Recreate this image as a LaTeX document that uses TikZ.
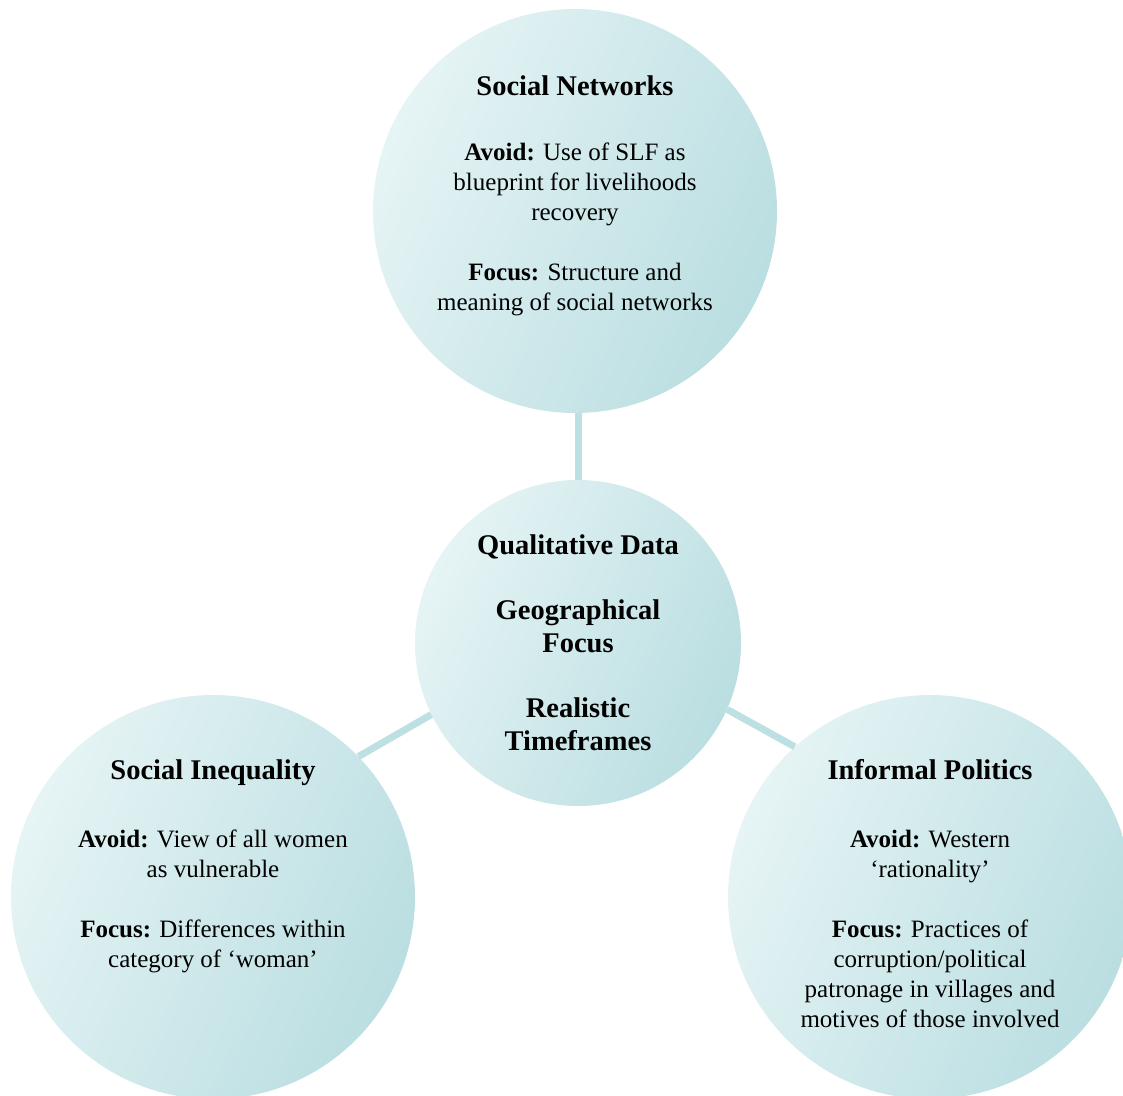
\documentclass[tikz,border=0pt]{standalone}
\usepackage{fontspec}
\setmainfont{Liberation Serif}
\usepackage{xcolor}
\definecolor{bubbleLight}{HTML}{E6F4F5}
\definecolor{bubbleDark}{HTML}{BADEE1}
\definecolor{linkTeal}{HTML}{BDE0E3}
\usepackage{tikz}
\usetikzlibrary{calc, positioning}
\newcommand{\headfont}{\fontsize{28.5}{33}\selectfont\bfseries}
\newcommand{\bodyfont}{\fontsize{25}{30}\selectfont}

\begin{document}
\begin{tikzpicture}[x=1pt, y=-1pt,
    bubble/.style={circle, minimum size=404pt, inner sep=0pt,
                   top color=bubbleLight, bottom color=bubbleDark, shading angle=65},
    hub/.style={bubble, minimum size=326pt},
    bubbletext/.style={align=center, inner sep=0pt, text=black, font=\bodyfont},
    hubtext/.style={bubbletext, font=\headfont},
    link/.style={draw=linkTeal, line width=7pt}]
  \clip (0,0) rectangle (1123,1095);

  % circles
  \node[bubble] (nets) at (575,211) {};
  \node[hub] (core) at (578,643) {};
  \node[bubble] (ineq) at (213,897) {};
  \node[bubble] (pol) at (930,897) {};

  % spokes
  \draw[link] (core.north) -- (core.north |- nets.south);
  \draw[link] (core.206) -- (ineq.44);
  \draw[link] (core.336) -- (pol.132);

  % texts
  \node[bubbletext] (netsText) at ([yshift=15pt]nets.center) {%
    {\headfont Social Networks}\\[35pt]
    \textbf{Avoid:} Use of SLF as\\
    blueprint for livelihoods\\
    recovery\\[30pt]
    \textbf{Focus:} Structure and\\
    meaning of social networks};
  \node[hubtext] (coreText) at (core.center) {%
    Qualitative Data\\[32pt]
    Geographical\\
    Focus\\[32pt]
    Realistic\\
    Timeframes};
  \node[bubbletext] (ineqText) at ([yshift=31pt]ineq.center) {%
    {\headfont Social Inequality}\\[38pt]
    \textbf{Avoid:} View of all women\\
    as vulnerable\\[30pt]
    \textbf{Focus:} Differences within\\
    category of ‘woman’};
  \node[bubbletext] (polText) at ([yshift=3pt]pol.center) {%
    {\headfont Informal Politics}\\[38pt]
    \textbf{Avoid:} Western\\
    ‘rationality’\\[30pt]
    \textbf{Focus:} Practices of\\
    corruption/political\\
    patronage in villages and\\
    motives of those involved};
\end{tikzpicture}
\end{document}
